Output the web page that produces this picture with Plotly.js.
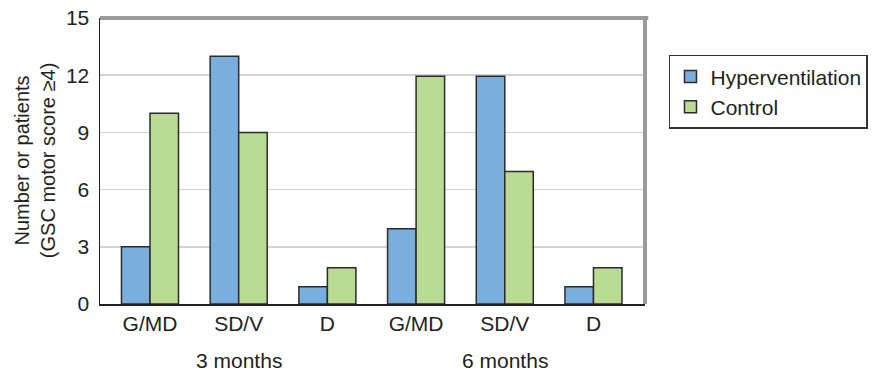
<!DOCTYPE html>
<html>
<head>
<meta charset="utf-8">
<script src="https://cdn.plot.ly/plotly-3.0.1.min.js"></script>
<style>html,body{margin:0;padding:0;background:#fff;}#chart{width:881px;height:374px;}</style>
</head>
<body>
<div id="chart"></div>
<script>
// Data
var tickLabels = ["G/MD", "SD/V", "D", "G/MD", "SD/V", "D"];
var positions = [0, 1, 2, 3, 4, 5];
var hyperventilation = [3, 13, 0.9, 3.95, 11.95, 0.9];
var control = [10, 9, 1.9, 11.95, 6.95, 1.9];
var groupLabels = ["3 months", "6 months"];
var groupCenters = [1, 4];
var yTicks = [0, 3, 6, 9, 12, 15];

var textColor = "#231f20";
var font = "Liberation Sans, Arial, Helvetica, sans-serif";

var traces = [
  {type: "bar", name: "Hyperventilation", x: positions, y: hyperventilation,
   marker: {color: "#7aafdd", line: {color: "#2b2b2b", width: 1.5}}},
  {type: "bar", name: "Control", x: positions, y: control,
   marker: {color: "#badb93", line: {color: "#2b2b2b", width: 1.5}}}
];

var annotations = groupLabels.map(function (t, i) {
  return {text: t, x: groupCenters[i], xref: "x", y: -0.196, yref: "paper",
          xanchor: "center", yanchor: "middle", showarrow: false,
          font: {size: 21, color: textColor, family: font}};
});
annotations.push({
  text: "Number or patients<br>(GSC motor score \u22654)", textangle: -90,
  x: -0.119, xref: "paper", y: 0.5, yref: "paper", xanchor: "center", yanchor: "middle",
  showarrow: false, font: {size: 20, color: textColor, family: font}
});

var layout = {
  width: 881, height: 374,
  margin: {l: 100, r: 236, t: 18, b: 70},
  paper_bgcolor: "#fff", plot_bgcolor: "#fff",
  font: {family: font, color: textColor, size: 21},
  barmode: "group", bargap: 0.357, bargroupgap: 0,
  showlegend: true,
  legend: {x: 1.044, xanchor: "left", y: 0.871, yanchor: "top",
           bgcolor: "#fff", bordercolor: "#333", borderwidth: 1.5,
           font: {size: 21, color: textColor, family: font}},
  xaxis: {range: [-0.5637, 5.581], tickvals: positions, ticktext: tickLabels,
          showgrid: false, zeroline: false, showline: true, linecolor: textColor, linewidth: 1.5,
          ticks: "", tickfont: {size: 21, color: textColor}, fixedrange: true},
  yaxis: {range: [0, 15], tickvals: yTicks, showgrid: true, gridcolor: "#d3d3d3", gridwidth: 1.5,
          zeroline: false, showline: true, linecolor: textColor, linewidth: 1.5,
          ticks: "", ticklabelstandoff: 5, tickfont: {size: 21, color: textColor}, fixedrange: true},
  annotations: annotations,
  shapes: [
    {type: "line", xref: "paper", yref: "paper", x0: 0, x1: 1.006, y0: 1, y1: 1,
     line: {color: "#999a9e", width: 4}},
    {type: "line", xref: "paper", yref: "paper", x0: 1, x1: 1, y0: 0, y1: 1.007,
     line: {color: "#999a9e", width: 4}}
  ]
};

Plotly.newPlot("chart", traces, layout, {displayModeBar: false, staticPlot: true});
</script>
</body>
</html>
